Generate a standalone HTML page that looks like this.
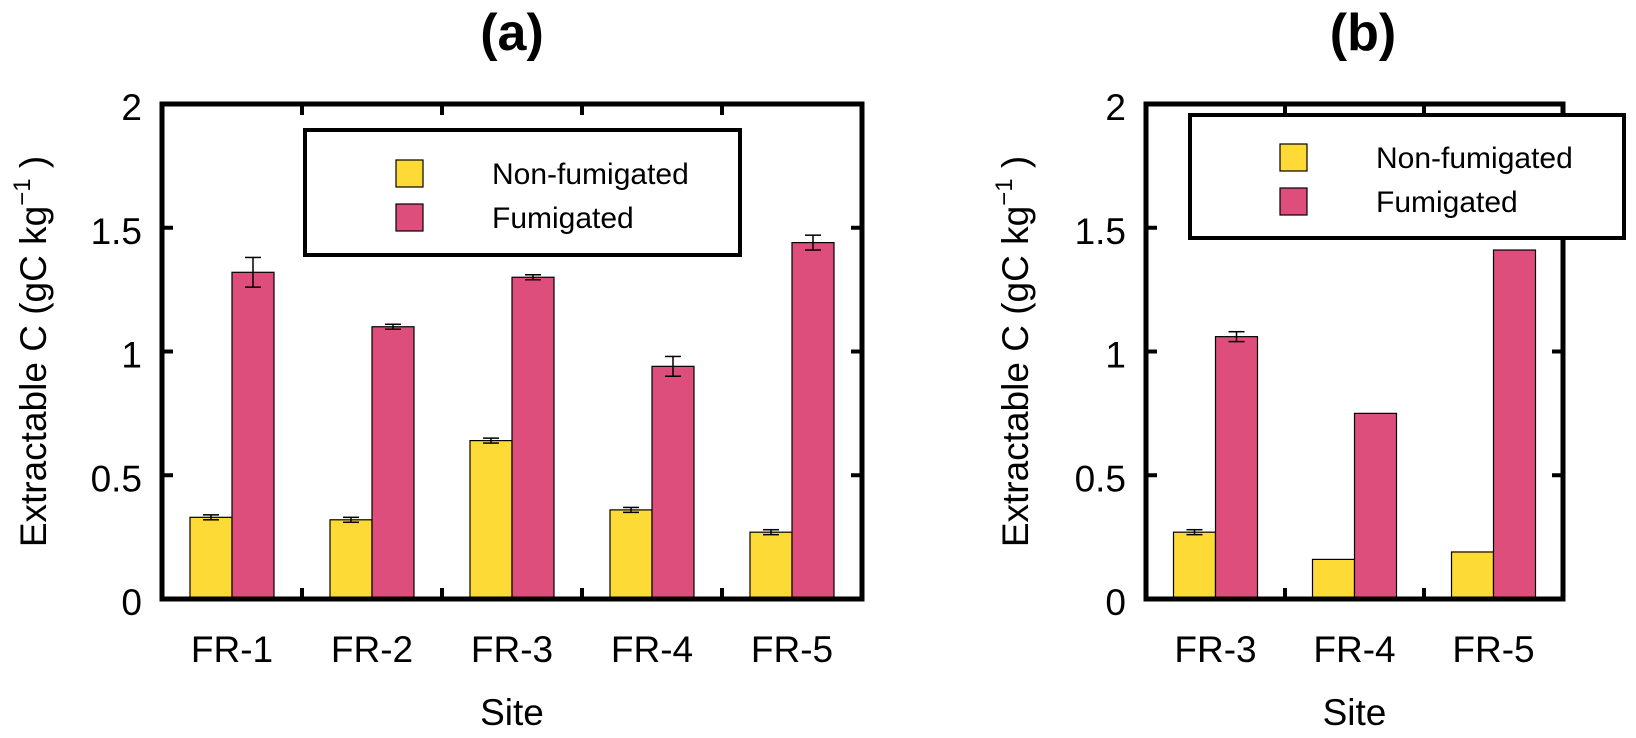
<!DOCTYPE html>
<html><head><meta charset="utf-8"><style>
body{margin:0;background:#fff}
svg{display:block;font-family:"Liberation Sans",Arial,sans-serif}
</style></head><body>
<svg id="chart" width="1636" height="738" viewBox="0 0 1636 738" xmlns="http://www.w3.org/2000/svg"></svg>
<script>
// Panel (a) data
const sitesA = ["FR-1","FR-2","FR-3","FR-4","FR-5"];
const nonFumA = [0.33,0.32,0.64,0.36,0.27];
const nonFumErrA = [0.01,0.01,0.01,0.01,0.01];
const fumA = [1.32,1.10,1.30,0.94,1.44];
const fumErrA = [0.06,0.01,0.01,0.04,0.03];
// Panel (b) data
const sitesB = ["FR-3","FR-4","FR-5"];
const nonFumB = [0.27,0.16,0.19];
const nonFumErrB = [0.01,0,0];
const fumB = [1.06,0.75,1.41];
const fumErrB = [0.02,0,0];
const yTicks = [0,0.5,1,1.5,2];
const yTickLabels = ["0","0.5","1","1.5","2"];

const NS="http://www.w3.org/2000/svg";
const svg=document.getElementById('chart');
function mk(tag,attrs,parent){const e=document.createElementNS(NS,tag);for(const k in attrs)e.setAttribute(k,attrs[k]);(parent||svg).appendChild(e);return e;}

function panel(cfg){
  const {left,top,bottom,groupW,sites,nf,nfe,f,fe,title,titleX,yTitleX,legend,id}=cfg;
  const right=left+groupW*sites.length;
  const y=v=>bottom-(v/2)*(bottom-top);
  const g=mk('g',{});
  
  
  // bars
  sites.forEach((s,i)=>{
    const cx=left+groupW*(i+0.5);
    const bw=42;
    const r1=mk('rect',{x:cx-bw,y:y(nf[i]),width:bw,height:y(0)-y(nf[i]),fill:'#FDDA35',stroke:'#000','stroke-width':1.2},g);
    
    
    const r2=mk('rect',{x:cx,y:y(f[i]),width:bw,height:y(0)-y(f[i]),fill:'#DD4E7C',stroke:'#000','stroke-width':1.2},g);
    
    
    [[cx-bw/2,nf[i],nfe[i],'nonfumigated'],[cx+bw/2,f[i],fe[i],'fumigated']].forEach(([ex,v,e,nm])=>{
      if(e<=0)return;
      const eg=mk('g',{stroke:'#000','stroke-width':1.5},g);
      
      
      mk('line',{x1:ex,x2:ex,y1:y(v+e),y2:y(v-e)},eg);
      mk('line',{x1:ex-8,x2:ex+8,y1:y(v+e),y2:y(v+e)},eg);
      mk('line',{x1:ex-8,x2:ex+8,y1:y(v-e),y2:y(v-e)},eg);
    });
    const t=mk('text',{x:cx,y:662,'font-size':37,'text-anchor':'middle'},g);
    t.textContent=s;
    
    
  });
  // frame
  const fr=mk('rect',{x:left,y:top,width:right-left,height:bottom-top,fill:'none',stroke:'#000','stroke-width':5},g);
  
  
  // x separator ticks
  for(let i=1;i<sites.length;i++){
    const xx=left+groupW*i;
    mk('line',{x1:xx,x2:xx,y1:top,y2:top+11,stroke:'#000','stroke-width':4},g);
    mk('line',{x1:xx,x2:xx,y1:bottom,y2:bottom-11,stroke:'#000','stroke-width':4},g);
  }
  // y ticks
  yTicks.forEach((v,i)=>{
    if(v>0&&v<2){
      mk('line',{x1:left,x2:left+11,y1:y(v),y2:y(v),stroke:'#000','stroke-width':4},g);
      mk('line',{x1:right,x2:right-11,y1:y(v),y2:y(v),stroke:'#000','stroke-width':4},g);
    }
    const t=mk('text',{x:left-20,y:y(v)+16,'font-size':37,'text-anchor':'end'},g);
    t.textContent=yTickLabels[i];
    
    
  });
  // axis titles
  const xt=mk('text',{x:(left+right)/2,y:725,'font-size':37,'text-anchor':'middle'},g);
  xt.textContent='Site';
  
  
  const yt=mk('text',{x:0,y:0,'font-size':37,'text-anchor':'middle',transform:`translate(${yTitleX},${(top+bottom)/2}) rotate(-90)`},g);
  
  
  yt.appendChild(document.createTextNode('Extractable C (gC kg'));
  const sup=mk('tspan',{'font-size':24,dy:-16},yt);sup.textContent='−1';
  const cl=mk('tspan',{dy:16},yt);cl.textContent=' )';
  const tt=mk('text',{x:titleX,y:50,'font-size':52,'font-weight':'bold','text-anchor':'middle'},g);
  tt.textContent=title;
  
  
  // legend
  const L=legend;
  const lg=mk('g',{},g);
  
  
  mk('rect',{x:L.x,y:L.y,width:L.w,height:L.h,fill:'#fff',stroke:'#000','stroke-width':4},lg);
  [['#FDDA35','Non-fumigated',L.s1],['#DD4E7C','Fumigated',L.s2]].forEach(([c,lab,sy])=>{
    const e=mk('g',{},lg);
    
    
    mk('rect',{x:L.sx,y:sy,width:27,height:27,fill:c,stroke:'#000','stroke-width':1.2},e);
    const t=mk('text',{x:L.tx,y:sy+24,'font-size':30},e);t.textContent=lab;
  });
}
panel({id:'a',left:162,top:104,bottom:599,groupW:140,sites:sitesA,nf:nonFumA,nfe:nonFumErrA,f:fumA,fe:fumErrA,
  title:'(a)',titleX:512,yTitleX:46,
  legend:{x:305,y:130,w:435,h:125,sx:396,tx:492,s1:160,s2:204}});
panel({id:'b',left:1146,top:104,bottom:599,groupW:139,sites:sitesB,nf:nonFumB,nfe:nonFumErrB,f:fumB,fe:fumErrB,
  title:'(b)',titleX:1363,yTitleX:1028,
  legend:{x:1190,y:115,w:434,h:123,sx:1280,tx:1376,s1:144,s2:188}});
</script>
</body></html>
